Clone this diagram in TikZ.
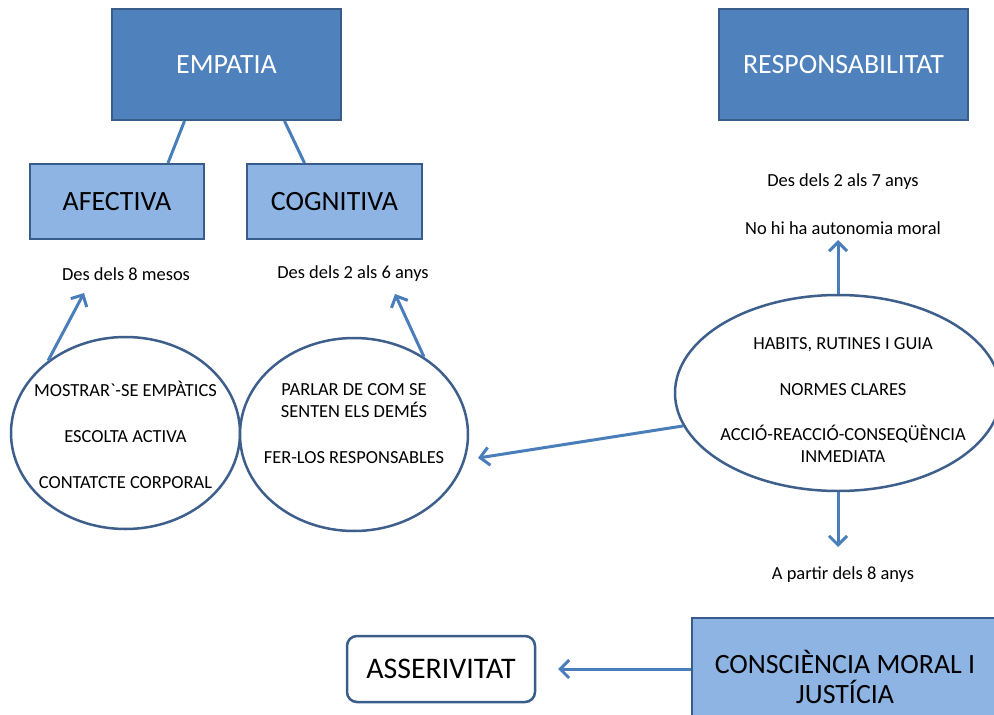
\documentclass[tikz,border=0pt]{standalone}
\usepackage{fontspec}
\setmainfont{Carlito}
\usetikzlibrary{shapes.geometric,arrows.meta}
\definecolor{darkblue}{HTML}{4F81BD}
\definecolor{edgeblue}{HTML}{385D8A}
\definecolor{lightblue}{HTML}{8EB4E3}
\definecolor{arrowblue}{HTML}{4A7EBB}
\definecolor{ovalblue}{HTML}{3E5F8C}

\begin{document}
\begin{tikzpicture}[x=1bp, y=-1bp,
        bigbox/.style={draw=edgeblue, line width=2bp, fill=darkblue, text=white, inner sep=0pt, font=\fontsize{28}{30}\selectfont},
        subbox/.style={draw=edgeblue, line width=2bp, fill=lightblue, inner sep=0pt, align=center, font=\fontsize{28}{30}\selectfont},
        oval/.style={ellipse, draw=ovalblue, line width=2.5bp, fill=white, inner sep=0pt},
        ovaltext/.style={align=center, font=\fontsize{18.5}{22}\selectfont},
        agetext/.style={font=\fontsize{18.5}{22}\selectfont},
        link/.style={arrowblue, line width=3bp},
        arr/.style={link, -{Straight Barb[length=9bp,width=18bp]}}]
        \useasboundingbox (0,0) rectangle (994,715);

        % empatia
        \node[bigbox, minimum width=229bp, minimum height=111bp] (emp) at (226.5,64.5) {EMPATIA};
        \node[subbox, minimum width=174bp, minimum height=75bp] (afe) at (117,201.5) {AFECTIVA};
        \node[subbox, minimum width=175bp, minimum height=75bp] (cog) at (334.5,201.5) {COGNITIVA};
        \draw[link] ([xshift=-42bp]emp.south) -- ([xshift=51bp]afe.north);
        \draw[link] ([xshift=58bp]emp.south) -- ([xshift=-30bp]cog.north);

        \node[agetext] (afe-age) at (126,274) {Des dels 8 mesos};
        \node[agetext] (cog-age) at (353,274) {Des dels 2 als 6 anys};
        \coordinate (afe-tip) at (84,293);
        \coordinate (cog-tip) at (395,294);

        \node[oval, minimum width=229bp, minimum height=192bp] (afe-ov) at (125.5,433) {};
        \node[oval, minimum width=228bp, minimum height=193bp] (cog-ov) at (354,434.5) {};
        \node[ovaltext] (afe-txt) at (125.5,435) {MOSTRAR\textasciigrave-SE EMPÀTICS\\[24bp]ESCOLTA ACTIVA\\[24bp]CONTATCTE CORPORAL};
        \node[ovaltext] (cog-txt) at (354,423.5) {PARLAR DE COM SE\\SENTEN ELS DEMÉS\\[24bp]FER-LOS RESPONSABLES};
        \draw[arr] (afe-ov.137.5) -- (afe-tip);
        \draw[arr] (cog-ov.48.6) -- (cog-tip);

        % responsabilitat
        \node[bigbox, minimum width=249bp, minimum height=111bp] (resp) at (843.5,64.5) {RESPONSABILITAT};
        \node[agetext] (resp-age) at (843,182) {Des dels 2 als 7 anys};
        \node[agetext] (resp-aut) at (843,228) {No hi ha autonomia moral};
        \node[oval, minimum width=326bp, minimum height=196bp] (resp-ov) at (838,393) {};
        \node[ovaltext] (resp-txt) at (843,400) {HABITS, RUTINES I GUIA\\[24bp]NORMES CLARES\\[24bp]ACCIÓ-REACCIÓ-CONSEQÜÈNCIA\\INMEDIATA};
        \coordinate (resp-up) at (838,240);
        \coordinate (resp-down) at (838,547);
        \coordinate (resp-left) at (478,458);
        \draw[arr] (resp-ov.north) -- (resp-up);
        \draw[arr] (resp-ov.south) -- (resp-down);
        \draw[arr] (resp-ov.192.4) -- (resp-left);
        \node[agetext] (moral-age) at (843,575) {A partir dels 8 anys};

        % consciencia moral
        \node[subbox, minimum width=306bp, minimum height=118bp] (consc) at (845,677) {CONSCIÈNCIA MORAL I\\JUSTÍCIA};
        \node[draw=edgeblue, line width=2.5bp, rounded corners=10bp, minimum width=188bp, minimum height=66bp,
              inner sep=0pt, font=\fontsize{30}{32}\selectfont] (asser) at (441,669) {ASSERIVITAT};
        \coordinate (asser-tip) at (558,669);
        \draw[arr] (consc.west |- asser.east) -- (asser-tip);
\end{tikzpicture}
\end{document}
